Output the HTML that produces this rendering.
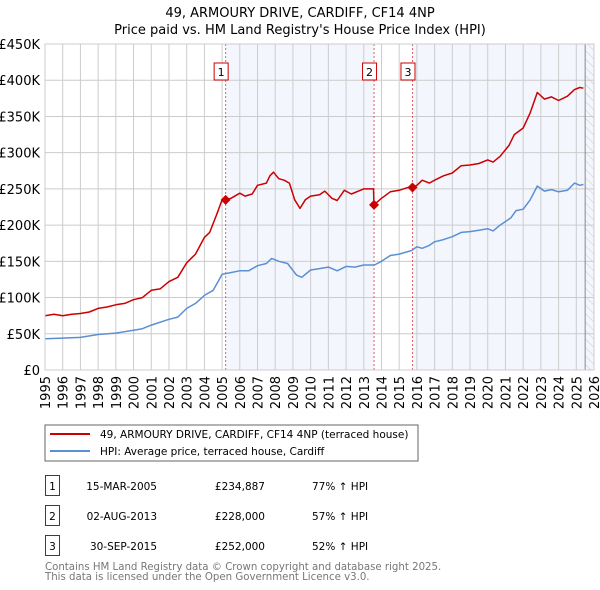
<!DOCTYPE html>
<html><head><meta charset="utf-8"><style>
body{margin:0;background:#fff;font-family:"Liberation Sans","DejaVu Sans",sans-serif}
svg{display:block}
</style></head><body>
<svg id="chart" width="600" height="590" xmlns="http://www.w3.org/2000/svg" font-family="DejaVu Sans, Liberation Sans, sans-serif">
<defs><pattern id="hatch" width="6" height="6" patternUnits="userSpaceOnUse" patternTransform="rotate(-45)"><line x1="0" y1="0" x2="0" y2="6" stroke="#ccc" stroke-width="1"/></pattern></defs>
<text x="300" y="17" text-anchor="middle" font-size="13">49, ARMOURY DRIVE, CARDIFF, CF14 4NP</text>
<text x="300" y="34" text-anchor="middle" font-size="13">Price paid vs. HM Land Registry's House Price Index (HPI)</text>
<g id="plot"></g>
<rect x="45" y="425" width="373" height="36" fill="none" stroke="#666"/>
<line x1="50" y1="434" x2="90" y2="434" stroke="#cc0000" stroke-width="2"/>
<text x="100" y="438" font-size="10.5">49, ARMOURY DRIVE, CARDIFF, CF14 4NP (terraced house)</text>
<line x1="50" y1="451" x2="90" y2="451" stroke="#5b8fd4" stroke-width="2"/>
<text x="100" y="455" font-size="10.5">HPI: Average price, terraced house, Cardiff</text>
<g font-size="10.5">
<rect x="45.5" y="475.5" width="14" height="20" fill="none" stroke="#cc0000"/><text x="52.5" y="490" text-anchor="middle">1</text>
<text x="157" y="490" text-anchor="end">15-MAR-2005</text>
<text x="265" y="490" text-anchor="end">£234,887</text>
<text x="312" y="490">77% ↑ HPI</text>
<rect x="45.5" y="505.5" width="14" height="20" fill="none" stroke="#cc0000"/><text x="52.5" y="520" text-anchor="middle">2</text>
<text x="157" y="520" text-anchor="end">02-AUG-2013</text>
<text x="265" y="520" text-anchor="end">£228,000</text>
<text x="312" y="520">57% ↑ HPI</text>
<rect x="45.5" y="535.5" width="14" height="20" fill="none" stroke="#cc0000"/><text x="52.5" y="550" text-anchor="middle">3</text>
<text x="157" y="550" text-anchor="end">30-SEP-2015</text>
<text x="265" y="550" text-anchor="end">£252,000</text>
<text x="312" y="550">52% ↑ HPI</text>
</g>
<text x="45" y="570" font-size="10.2" fill="#777">Contains HM Land Registry data © Crown copyright and database right 2025.</text>
<text x="45" y="580" font-size="10.2" fill="#777">This data is licensed under the Open Government Licence v3.0.</text>
</svg>
<script>
const redX=[1995,1995.5,1996,1996.5,1997,1997.5,1998,1998.5,1999,1999.5,2000,2000.5,2001,2001.5,2002,2002.5,2003,2003.5,2004,2004.3,2004.7,2005,2005.2,2005.5,2006,2006.3,2006.7,2007,2007.5,2007.7,2007.9,2008.2,2008.5,2008.8,2009.1,2009.4,2009.7,2010,2010.5,2010.8,2011.2,2011.5,2011.9,2012.3,2012.7,2013,2013.55,2013.58,2014,2014.5,2015,2015.5,2015.75,2016,2016.3,2016.7,2017,2017.5,2018,2018.5,2019,2019.5,2020,2020.3,2020.7,2021.2,2021.5,2022,2022.4,2022.8,2023.2,2023.6,2024,2024.5,2024.9,2025.2,2025.4];
const redY=[75,77,75,77,78,80,85,87,90,92,97,100,110,112,122,128,148,160,183,190,215,235,235,237,244,240,243,255,258,268,273,264,262,258,235,223,235,240,242,247,237,234,248,243,247,250,250,228,237,246,248,252,252,255,262,258,262,268,272,282,283,285,290,287,295,310,325,334,355,383,374,377,372,378,387,390,389];
const hpiX=[1995,1996,1997,1998,1999,2000,2000.5,2001,2002,2002.5,2003,2003.5,2004,2004.5,2005,2005.2,2006,2006.5,2007,2007.5,2007.8,2008.2,2008.7,2009.2,2009.5,2010,2010.5,2011,2011.5,2012,2012.5,2013,2013.6,2014,2014.5,2015,2015.7,2016,2016.3,2016.7,2017,2017.5,2018,2018.5,2019,2019.5,2020,2020.3,2020.7,2021.3,2021.6,2022,2022.4,2022.8,2023.2,2023.6,2024,2024.5,2024.9,2025.2,2025.4];
const hpiY=[43,44,45,49,51,55,57,62,70,73,85,92,103,110,132,133,137,137,144,147,154,150,147,131,128,138,140,142,137,143,142,145,145,150,158,160,165,170,168,172,177,180,184,190,191,193,195,192,200,210,220,222,235,254,247,249,246,248,258,255,256];
const saleX=[2005.2,2013.58,2015.75];
const saleY=[234.887,228,252];
const saleLabels=["1","2","3"];
const yTicks=[0,50,100,150,200,250,300,350,400,450];
const yTickLabels=["£0","£50K","£100K","£150K","£200K","£250K","£300K","£350K","£400K","£450K"];
const xTicks=[1995,1996,1997,1998,1999,2000,2001,2002,2003,2004,2005,2006,2007,2008,2009,2010,2011,2012,2013,2014,2015,2016,2017,2018,2019,2020,2021,2022,2023,2024,2025,2026];

const NS="http://www.w3.org/2000/svg";
const L=45,R=594,T=44,B=370;
const sx=v=>L+(v-1995)/(2026-1995)*(R-L);
const sy=v=>B-v/450*(B-T);
const g=document.getElementById('plot');
function mk(tag,attrs,parent){const e=document.createElementNS(NS,tag);for(const k in attrs)e.setAttribute(k,attrs[k]);(parent||g).appendChild(e);return e;}
let e;
e=mk('rect',{x:L,y:T,width:R-L,height:B-T,fill:'#fff'});


e=mk('rect',{x:sx(saleX[0]),y:T,width:sx(saleX[1])-sx(saleX[0]),height:B-T,fill:'#f3f6fd'});


e=mk('rect',{x:sx(saleX[2]),y:T,width:sx(2026)-sx(saleX[2]),height:B-T,fill:'#f3f6fd'});


e=mk('rect',{x:sx(2025.5),y:T,width:sx(2026)-sx(2025.5),height:B-T,fill:'url(#hatch)'});


yTicks.forEach((v,i)=>{
  e=mk('line',{x1:L,x2:R,y1:sy(v),y2:sy(v),stroke:'#ccc','stroke-width':1});
  
  
  e=mk('text',{x:L-5,y:sy(v)+5,'text-anchor':'end','font-size':13});
  e.textContent=yTickLabels[i];
  
  
});
xTicks.forEach(v=>{
  e=mk('line',{x1:sx(v),x2:sx(v),y1:T,y2:B,stroke:'#ccc','stroke-width':1});
  
  
  e=mk('text',{x:0,y:0,'text-anchor':'end','font-size':13,transform:`translate(${sx(v)+5},${B+6}) rotate(-90)`});
  e.textContent=v;
  
  
});
e=mk('line',{x1:sx(2025.5),x2:sx(2025.5),y1:T,y2:B,stroke:'#888','stroke-width':1});


saleX.forEach((v,i)=>{
  e=mk('line',{x1:sx(v),x2:sx(v),y1:T,y2:B,stroke:'#e06060','stroke-width':1,'stroke-dasharray':'2,2'});
  
  
  const by=63;
  e=mk('rect',{x:sx(v)-11.5,y:by,width:14,height:17,fill:'#fff',stroke:'#cc0000'});
  
  
  e=mk('text',{x:sx(v)-4.5,y:by+13,'text-anchor':'middle','font-size':11});
  e.textContent=saleLabels[i];
  
  
});
function pts(xs,ys){return xs.map((x,i)=>sx(x).toFixed(1)+','+sy(ys[i]).toFixed(1)).join(' ');}
e=mk('polyline',{points:pts(hpiX,hpiY),fill:'none',stroke:'#5b8fd4','stroke-width':1.5,'stroke-linejoin':'round'});


e=mk('polyline',{points:pts(redX,redY),fill:'none',stroke:'#cc0000','stroke-width':1.5,'stroke-linejoin':'round'});


saleX.forEach((v,i)=>{
  const x=sx(v),y=sy(saleY[i]);
  e=mk('polygon',{points:`${x},${y-5} ${x+5},${y} ${x},${y+5} ${x-5},${y}`,fill:'#cc0000'});
  
  
});
e=mk('rect',{x:L,y:T,width:R-L,height:B-T,fill:'none',stroke:'#ccc'});


</script>
</body></html>
